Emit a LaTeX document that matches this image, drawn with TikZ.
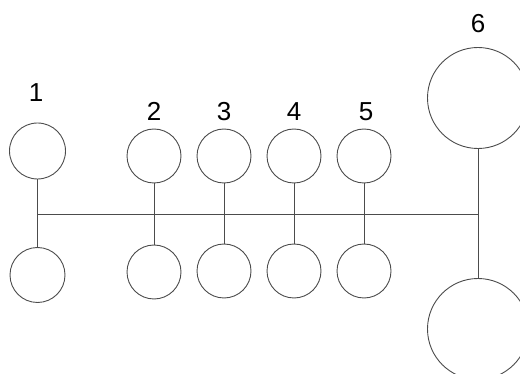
\documentclass[tikz,border=0pt]{standalone}
\usepackage{fontspec}
\setmainfont{Liberation Sans}
\begin{document}
\begin{tikzpicture}[x=1pt,y=-1pt,
  wire/.style={draw=black!70,line width=0.9pt},
  small/.style={circle,draw=black!70,line width=0.9pt,minimum size=54pt,inner sep=0pt},
  big/.style={circle,draw=black!70,line width=0.9pt,minimum size=101pt,inner sep=0pt},
  lbl/.style={font=\fontsize{26}{30}\selectfont,inner sep=0pt,anchor=base}]
\useasboundingbox (0,0) rectangle (520,374);
\clip (0,0) rectangle (520,374);
% top row
\node[small,minimum size=56pt] (t1) at (37.5,151) {};
\node[small] (t2) at (154,156) {};
\node[small] (t3) at (224,156) {};
\node[small] (t4) at (294,156) {};
\node[small] (t5) at (364,156) {};
\node[big] (t6) at (478,98) {};
% bottom row
\node[small,minimum size=55pt] (b1) at (37.5,275) {};
\node[small] (b2) at (154,272) {};
\node[small] (b3) at (224,271) {};
\node[small] (b4) at (294,271) {};
\node[small] (b5) at (364,271) {};
\node[big] (b6) at (478,329) {};
% labels
\node[lbl] (l1) at (36,102) {1};
\node[lbl] (l2) at (154,121) {2};
\node[lbl] (l3) at (224,121) {3};
\node[lbl] (l4) at (294,121) {4};
\node[lbl] (l5) at (366,121) {5};
\node[lbl] (l6) at (478,33) {6};
% connectors
\coordinate (j1) at (37.5,214);
\coordinate (j6) at (478,214);
\draw[wire] (t1) -- (b1);
\draw[wire] (t2) -- (b2);
\draw[wire] (t3) -- (b3);
\draw[wire] (t4) -- (b4);
\draw[wire] (t5) -- (b5);
\draw[wire] (t6) -- (b6);
\draw[wire] (j1) -- (j6);
\end{tikzpicture}
\end{document}
